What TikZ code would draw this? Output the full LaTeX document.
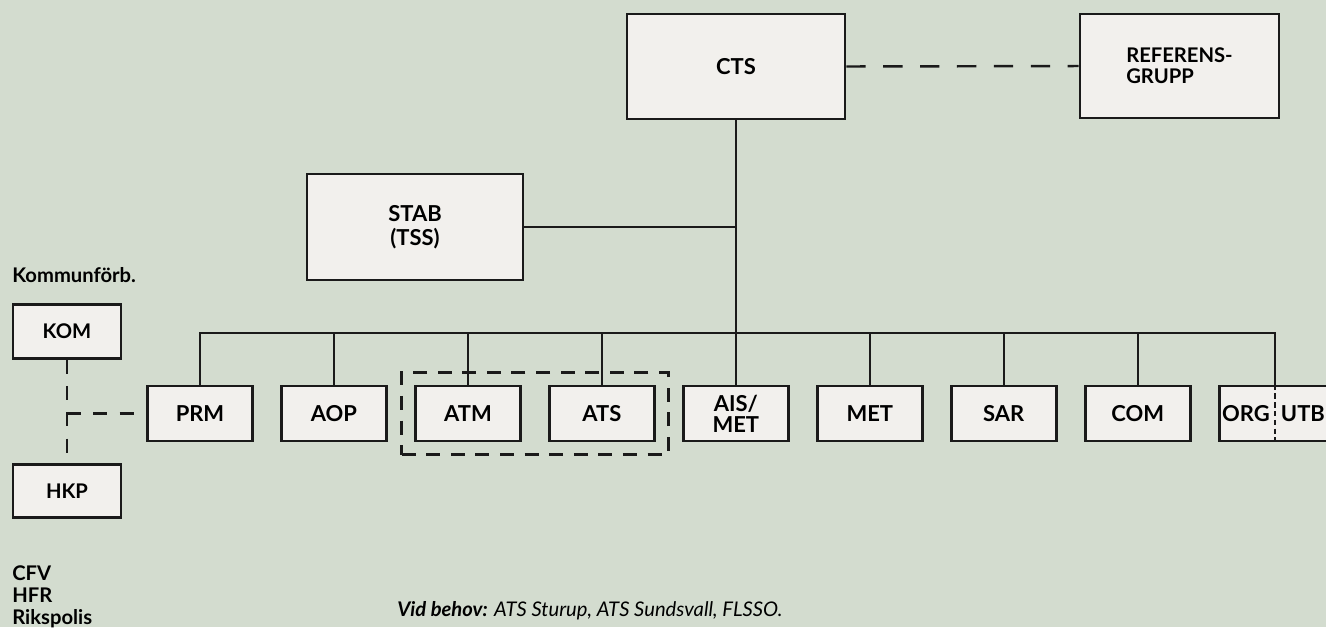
\documentclass[tikz,border=0pt]{standalone}
\usepackage{fontspec}
\setmainfont{Lato}
\usepackage{tikz}
\usetikzlibrary{positioning,fit}
\definecolor{chartSage}{HTML}{D3DCCF}
\definecolor{chartPaper}{HTML}{F2F0ED}
\definecolor{chartInk}{HTML}{1A1A1A}
\tikzset{
  orgbox/.style={draw=chartInk, line width=1.5pt, fill=chartPaper, align=center, inner sep=2pt, font=\bfseries\fontsize{12.5}{13}\selectfont},
  unitbox/.style={orgbox, minimum width=2.1cm, minimum height=1.1cm},
  sidebox/.style={orgbox, minimum width=2.16cm, minimum height=1.07cm, font=\bfseries\fontsize{11.5}{12}\selectfont},
  orgline/.style={draw=chartInk, line width=1.2pt},
  linkdash/.style={orgline, line width=1.4pt, dash pattern=on 11pt off 10pt},
  sidedash/.style={orgline, line width=1.4pt, dash pattern=on 8pt off 7pt},
  groupdash/.style={draw=chartInk, line width=1.6pt, dash pattern=on 8pt off 6pt},
  splitdash/.style={draw=chartInk, line width=1.1pt, dash pattern=on 3pt off 2pt},
  sidenote/.style={font=\bfseries\fontsize{11.5}{12.5}\selectfont, inner sep=0pt, align=left},
  footnote/.style={font=\itshape\fontsize{11.5}{12}\selectfont, inner sep=0pt, anchor=base west}
}
\begin{document}
\begin{tikzpicture}[x=0.02cm, y=-0.02cm, node distance=0.527cm]
    \path[use as bounding box, fill=chartSage] (0,0) rectangle (1326,627);

    % top of the chart
    \node[orgbox, minimum width=4.36cm, minimum height=2.1cm] (cts) at (736,66.5) {CTS};
    \node[orgbox, minimum width=3.98cm, minimum height=2.08cm, font=\bfseries\fontsize{11.5}{12}\selectfont,
      align=left] (reftxt) at (1179.5,66) {REFERENS-\\GRUPP};
    \node[orgbox, minimum width=4.32cm, minimum height=2.12cm] (stab) at (415,227) {STAB\\[1pt](TSS)};

    % units
    \node[unitbox] (prm) at (200,413.5) {PRM};
    \node[unitbox, right=of prm] (aop) {AOP};
    \node[unitbox, right=of aop] (atm) {ATM};
    \node[unitbox, right=of atm] (ats) {ATS};
    \node[unitbox, right=of ats, font=\bfseries\fontsize{12.5}{12}\selectfont] (ais) {AIS/\\MET};
    \node[unitbox, right=of ais] (met) {MET};
    \node[unitbox, right=of met] (sar) {SAR};
    \node[unitbox, right=of sar] (com) {COM};
    \node[unitbox, right=of com, minimum width=2.6cm] (orgutb) {};
    \coordinate (orgmid) at ([xshift=1.15cm]orgutb.west);
    \node[inner sep=0pt, font=\bfseries\fontsize{12.5}{13}\selectfont, left=3pt of orgmid] (orglbl) {ORG};
    \node[inner sep=0pt, font=\bfseries\fontsize{12.5}{13}\selectfont, right=3pt of orgmid] (utblbl) {UTB};
    \node[groupdash, fit=(atm)(ats), inner sep=0.25cm] (atsgroup) {};

    % outside bodies
    \node[sidebox] (kom) at (67,331.5) {KOM};
    \node[sidebox] (hkp) at (67,491) {HKP};
    \node[sidenote, anchor=base west] (kommun) at (12,282) {Kommunförb.};
    \node[sidenote, anchor=north west] (agencies) at (12,565) {CFV\\HFR\\Rikspolis};
    \node[footnote] (behov) at (397,616) {\textbf{Vid behov:} ATS Sturup, ATS Sundsvall, FLSSO.};

    % connectors
    \coordinate (busrow) at (0,333);
    \draw[orgline] (cts.south) -- (cts.south |- ais.north);
    \draw[orgline] (stab.east) -- (stab.east -| cts.south);
    \draw[orgline] (prm.north) -- (prm.north |- busrow) -- (orgmid |- busrow) -- (orgmid |- orgutb.north);
    \foreach \unit in {aop,atm,ats,met,sar,com}
      \draw[orgline] (\unit.north) -- (\unit.north |- busrow);
    \draw[splitdash] (orgmid |- orgutb.north) -- (orgmid |- orgutb.south);
    \draw[linkdash] (cts.east) -- (reftxt.west);
    \draw[sidedash] (kom.south) -- (hkp.north);
    \draw[sidedash] (kom.south |- prm.west) -- (prm.west);
  \end{tikzpicture}
\end{document}
